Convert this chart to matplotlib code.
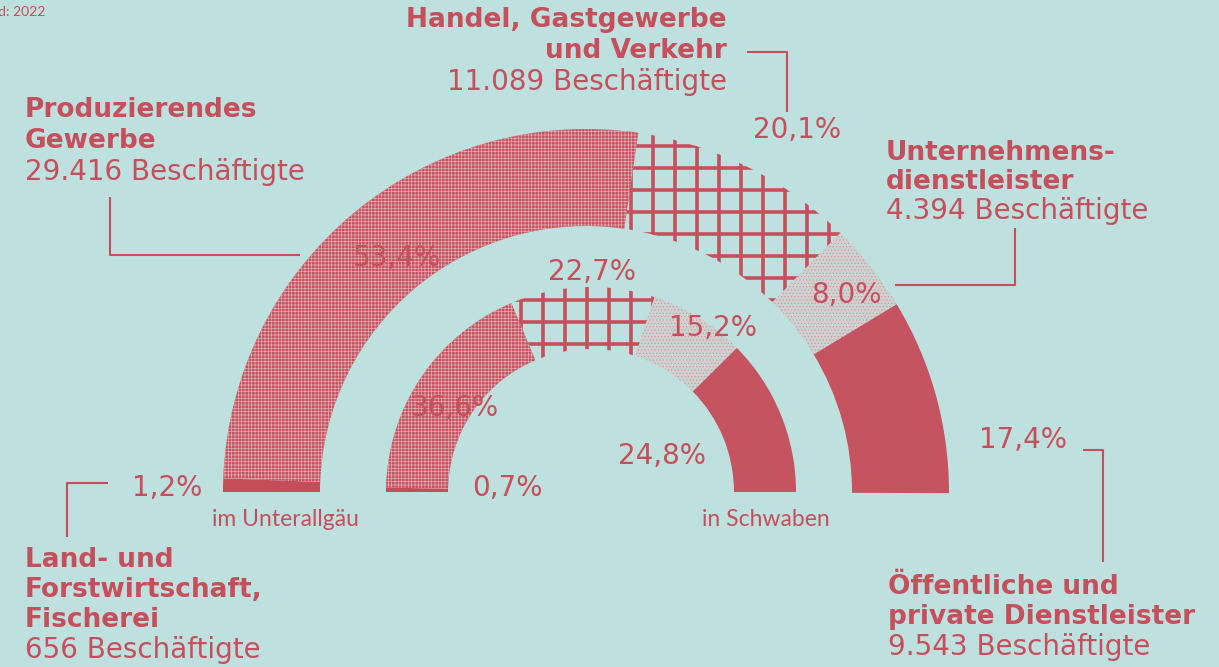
import numpy as np
import matplotlib.pyplot as plt
from matplotlib.patches import Wedge
from matplotlib.collections import LineCollection

W, H = 1219, 667
BG = '#bee0de'
RED = '#c5505c'

# Anteile der Beschäftigten nach Wirtschaftsbereich (Stand 2022)
categories = ['Land- und Forstwirtschaft, Fischerei', 'Produzierendes Gewerbe',
              'Handel, Gastgewerbe und Verkehr', 'Unternehmensdienstleister',
              'Öffentliche und private Dienstleister']
share_unterallgaeu = [1.2, 53.4, 20.1, 8.0, 17.4]
share_schwaben = [0.7, 36.6, 22.7, 15.2, 24.8]
employees_unterallgaeu = ['656', '29.416', '11.089', '4.394', '9.543']

plt.rcParams['hatch.linewidth'] = 0.5
plt.rcParams['font.family'] = ['DejaVu Sans']

fig = plt.figure(figsize=(W / 100, H / 100), dpi=100, facecolor=BG)
ax = fig.add_axes([0, 0, 1, 1])
ax.set_xlim(0, W)
ax.set_ylim(0, H)
ax.set_aspect('equal')
ax.axis('off')


def Y(y_px):
    return H - y_px


def grid_clip(ax, clip, cx, cy, r_out):
    # Gitterlinien fuer "Handel", auf das Segment beschnitten
    xs = np.arange(653 - 22 * 30, cx + r_out, 22)
    ys = np.arange(Y(168) - 22 * 30, cy + r_out + 22, 22)
    segs = [[(x, cy - 5), (x, cy + r_out + 10)] for x in xs if x > cx - r_out - 10]
    segs += [[(cx - r_out - 10, y), (cx + r_out + 10, y)] for y in ys if y > cy - 5]
    lc = LineCollection(segs, colors=RED, linewidths=2.6)
    ax.add_collection(lc)
    lc.set_clip_path(clip)


def draw_ring(ax, shares, cx, cy, r_out, width):
    start = 180.0
    for i, s in enumerate(shares):
        span = 180.0 * s / 100.0
        t1, t2 = start - span, start
        start = t1
        if i == 0:
            ax.add_patch(Wedge((cx, cy), r_out, t1, t2, width=width, facecolor='#c44d59', lw=0))
        elif i == 1:
            ax.add_patch(Wedge((cx, cy), r_out, t1, t2, width=width, facecolor='#c65360', lw=0))
            ax.add_patch(Wedge((cx, cy), r_out, t1, t2, width=width, fill=False,
                               hatch='+++++', edgecolor='#e3aeb3', lw=0))
        elif i == 2:
            clip = Wedge((cx, cy), r_out, t1, t2, width=width, facecolor='none', edgecolor='none')
            ax.add_patch(clip)
            grid_clip(ax, clip, cx, cy, r_out)
        elif i == 3:
            ax.add_patch(Wedge((cx, cy), r_out, t1, t2, width=width, facecolor='#ccd2d2', lw=0))
            ax.add_patch(Wedge((cx, cy), r_out, t1, t2, width=width, fill=False,
                               hatch='.....', edgecolor='#d8959c', lw=0))
        else:
            ax.add_patch(Wedge((cx, cy), r_out, t1, t2, width=width, facecolor='#c55460', lw=0))


draw_ring(ax, share_unterallgaeu, 586, Y(492), 363, 97)
draw_ring(ax, share_schwaben, 591, Y(492), 205, 62)


def pct(v):
    return f"{v:.1f}".replace('.', ',') + '%'


# Prozentwerte
pct_kw = dict(color=RED, fontsize=20, va='center')
out_pos = [(202, 488, 'right'), (397, 258, 'center'), (797, 130, 'center'),
           (846, 295, 'center'), (1023, 440, 'center')]
in_pos = [(507, 488, 'center'), (455, 408, 'center'), (592, 272, 'center'),
          (713, 328, 'center'), (662, 456, 'center')]
for v, (x, y, ha) in zip(share_unterallgaeu, out_pos):
    ax.text(x, Y(y), pct(v), ha=ha, **pct_kw)
for v, (x, y, ha) in zip(share_schwaben, in_pos):
    ax.text(x, Y(y), pct(v), ha=ha, **pct_kw)


def block(x, y0, lines, n_bold, ha='left', dy=31):
    for k, line in enumerate(lines):
        bold = k < n_bold
        ax.text(x, Y(y0 + k * dy), line, ha=ha, va='center', color=RED,
                fontsize=19 if bold else 20,
                fontweight='bold' if bold else 'normal')


block(727, 20, ['Handel, Gastgewerbe', 'und Verkehr',
                f'{employees_unterallgaeu[2]} Beschäftigte'], 2, ha='right')
block(25, 110, ['Produzierendes', 'Gewerbe', f'{employees_unterallgaeu[1]} Beschäftigte'], 2)
block(886, 153, ['Unternehmens-', 'dienstleister', f'{employees_unterallgaeu[3]} Beschäftigte'], 2, dy=29)
block(888, 587, ['Öffentliche und', 'private Dienstleister',
                 f'{employees_unterallgaeu[4]} Beschäftigte'], 2, dy=30)
block(25, 560, ['Land- und', 'Forstwirtschaft,', 'Fischerei',
                f'{employees_unterallgaeu[0]} Beschäftigte'], 3, dy=30)

# Verbindungslinien
lk = dict(color=RED, lw=1.5, solid_capstyle='butt')
ax.plot([747, 787, 787], [Y(52), Y(52), Y(112)], **lk)
ax.plot([110, 110, 300], [Y(197), Y(255), Y(255)], **lk)
ax.plot([1015, 1015, 895], [Y(228), Y(285), Y(285)], **lk)
ax.plot([1083, 1103, 1103], [Y(450), Y(450), Y(562)], **lk)
ax.plot([108, 67, 67], [Y(483), Y(483), Y(537)], **lk)

# Ring-Beschriftungen
ax.text(285, Y(519), 'im Unterallgäu', ha='center', va='center', color=RED,
        fontsize=16.5, family='Lato')
ax.text(766, Y(519), 'in Schwaben', ha='center', va='center', color=RED,
        fontsize=16.5, family='Lato')
ax.text(45, Y(12), 'Stand: 2022', ha='right', va='center', color=RED,
        fontsize=10, family='Lato')

fig.savefig('out.png', dpi=100, facecolor=BG)
